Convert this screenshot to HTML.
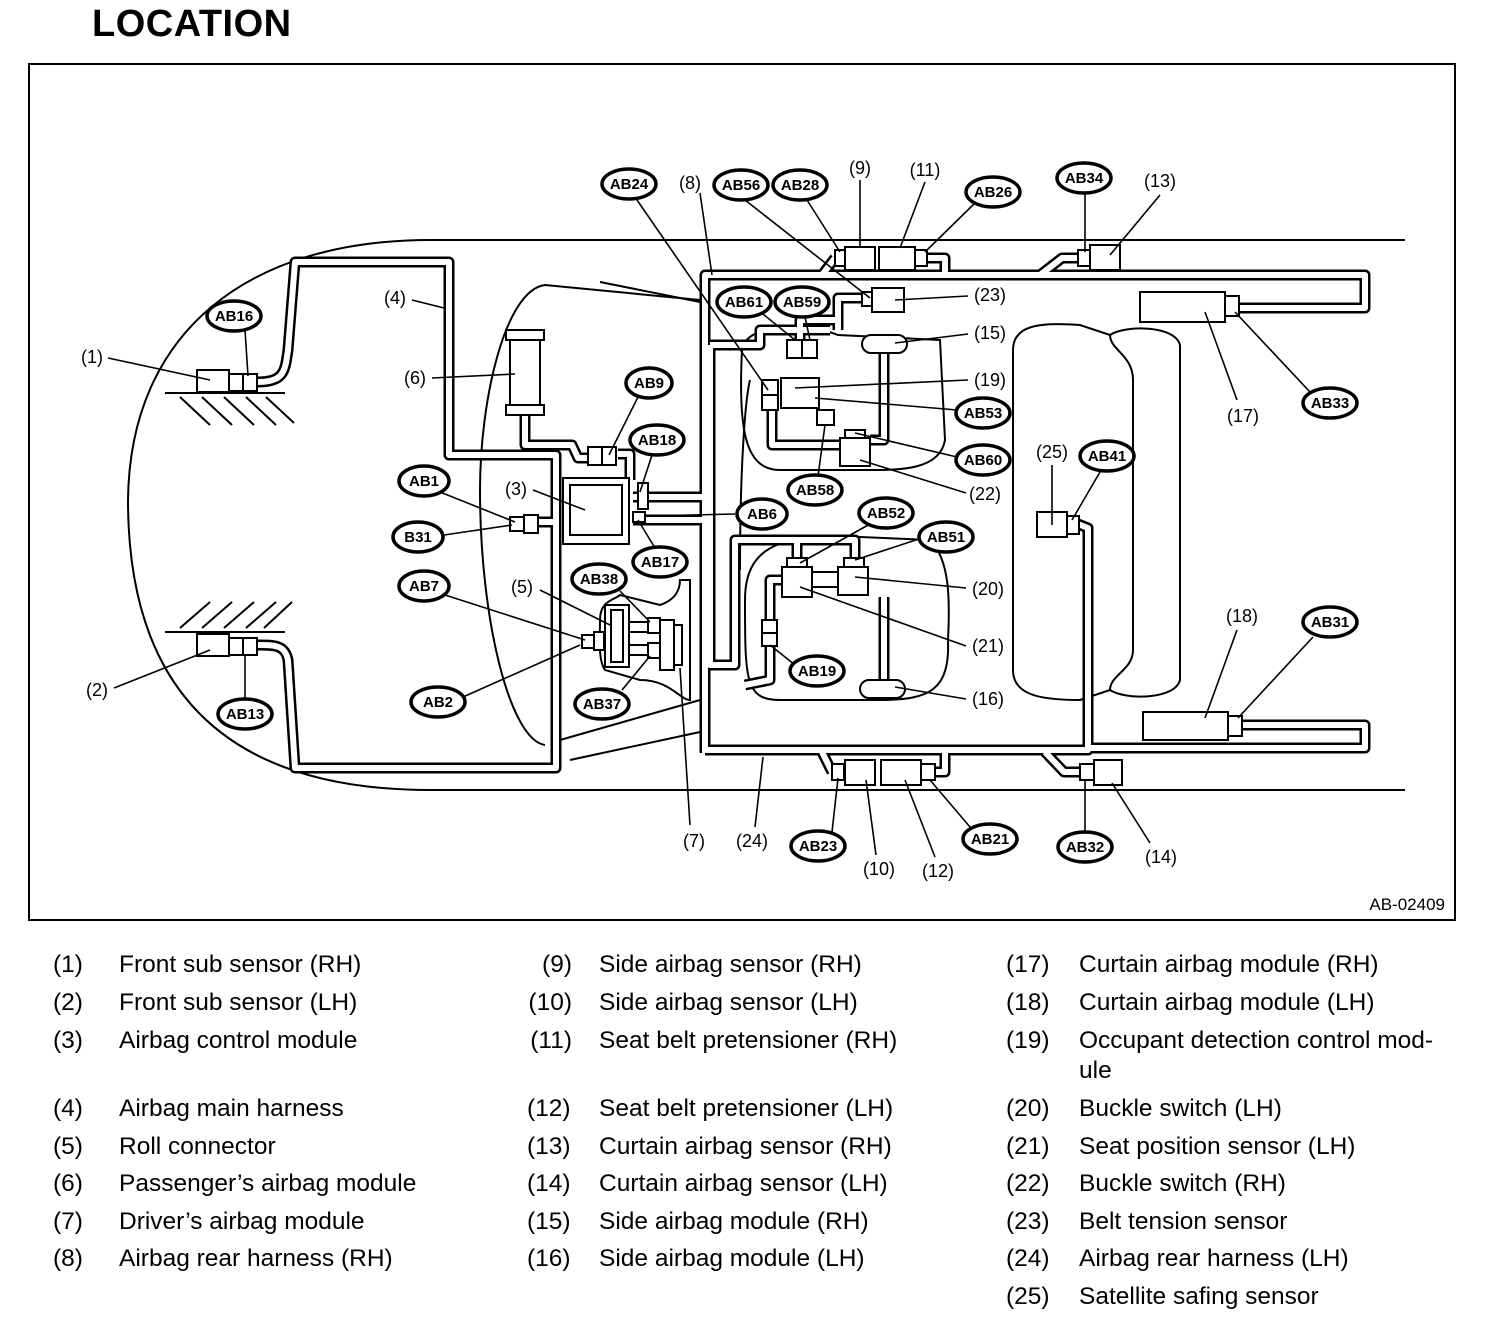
<!DOCTYPE html>
<html><head><meta charset="utf-8"><style>
html,body{margin:0;padding:0;background:#fff}
body{width:1504px;height:1342px;position:relative;overflow:hidden;font-family:"Liberation Sans",sans-serif}
.t{position:absolute;left:92px;top:3px;font-size:38px;font-weight:bold;letter-spacing:0.5px}
.lg{position:absolute;font-size:24.5px;line-height:38px;white-space:nowrap}
.b2{line-height:37.5px;top:1090px}
</style></head><body>
<div class="t">LOCATION</div>
<svg width="1504" height="1342" style="position:absolute;left:0;top:0" xmlns="http://www.w3.org/2000/svg">
<defs>
<g id="hp">
<path d="M258,382 C285,382 285,370 288,350 L295,262 L449,262 L449,455 L556,455 L556,768 L295,768 L288,660 C285,645 275,645 258,645"/>
<path d="M525,410 L525,445 L572,445 L578,458 L590,458"/>
<path d="M618,454 L630,454 L630,480"/>
<path d="M538,522 L556,522"/>
<path d="M633,497 L705,497"/>
<path d="M633,520 L705,520"/>
<path d="M705,753 L705,275 L1365,275 L1365,308 L1240,308"/>
<path d="M705,750 L1088,750 L1088,528 L1078,524"/>
<path d="M1088,748 L1365,748 L1365,725 L1242,725"/>
<path d="M822,275 L835,258"/>
<path d="M926,258 L945,258 L945,275"/>
<path d="M1078,258 L1062,258 L1040,275"/>
<path d="M832,772 L822,752"/>
<path d="M934,772 L945,772 L945,752"/>
<path d="M1080,772 L1064,772 L1045,752"/>
<path d="M862,298 L838,298 L838,330"/>
<path d="M772,395 L772,445 L840,445"/>
<path d="M800,340 L800,320 L838,320"/>
<path d="M884,353 L884,440 L870,440"/>
<path d="M710,345 L760,345 L760,330 L830,330"/>
<path d="M710,345 L710,665 L735,665 L735,540 L855,540 L855,560"/>
<path d="M770,622 L770,580 L782,580"/>
<path d="M770,645 L770,680 L745,685"/>
<path d="M884,597 L884,680"/>
<path d="M797,560 L797,540"/>
</g>
</defs>
<rect x="29" y="64" width="1426" height="856" fill="none" stroke="#000" stroke-width="2"/>
<path d="M1405,240 L430,240 C250,240 130,330 128,500 C128,640 180,790 430,790 L1405,790" fill="none" stroke="#000" stroke-width="2"/>
<g fill="none" stroke="#000" stroke-width="2">
<path d="M700,300 L545,285 C505,290 480,400 480,490 C480,620 510,740 545,745"/>
<path d="M600,282 L700,302"/>
<path d="M560,740 L700,700"/><path d="M570,760 L700,732"/>
<path d="M742,350 C745,325 800,320 838,335 L940,340 L945,440 C940,470 900,470 870,470 L780,470 C745,470 738,430 742,350"/>
<path d="M740,570 C740,470 745,400 750,380"/>
<path d="M745,600 C745,540 790,535 860,537 L930,540 C950,560 950,600 948,640 C950,690 930,700 880,700 L780,700 C745,700 745,680 745,600"/>
<path d="M1013,350 C1013,325 1040,322 1080,325 L1110,335 C1125,325 1175,325 1180,345 L1180,680 C1175,700 1125,700 1110,690 L1080,700 C1040,700 1013,695 1013,670 Z"/>
<path d="M1110,335 C1110,350 1133,355 1133,380 L1133,650 C1133,670 1110,675 1110,690"/>
<path d="M600,620 C600,600 615,600 620,595 L640,600 L660,605 C675,600 680,590 680,580 L690,580 L690,700 C680,700 670,680 640,680 L605,670 C598,660 600,640 600,620"/>
<path d="M165,393 L285,393"/><path d="M165,632 L285,632"/>
</g>
<g stroke="#000" stroke-width="2">
<line x1="180" y1="397" x2="210" y2="425"/><line x1="202" y1="397" x2="232" y2="425"/><line x1="224" y1="397" x2="254" y2="425"/><line x1="246" y1="397" x2="276" y2="425"/><line x1="266" y1="397" x2="294" y2="423"/>
<line x1="180" y1="628" x2="210" y2="602"/><line x1="202" y1="628" x2="232" y2="602"/><line x1="224" y1="628" x2="254" y2="602"/><line x1="246" y1="628" x2="276" y2="602"/><line x1="264" y1="628" x2="292" y2="602"/>
</g>
<g fill="none" stroke="#000" stroke-width="11" stroke-linejoin="round"><use href="#hp"/></g>
<g fill="none" stroke="#fff" stroke-width="6" stroke-linejoin="round"><use href="#hp"/></g>
<g fill="#fff" stroke="#000" stroke-width="2">
<rect x="197" y="370" width="32" height="22"/><rect x="229" y="374" width="14" height="17"/><rect x="243" y="374" width="14" height="17"/>
<rect x="197" y="634" width="32" height="22"/><rect x="229" y="638" width="14" height="17"/><rect x="243" y="638" width="14" height="17"/>
<rect x="510" y="335" width="30" height="75"/><rect x="506" y="330" width="38" height="10"/><rect x="506" y="405" width="38" height="10"/>
<rect x="588" y="447" width="14" height="18"/><rect x="602" y="447" width="14" height="18"/>
<rect x="510" y="517" width="14" height="14"/><rect x="524" y="515" width="14" height="18"/>
<rect x="563" y="478" width="66" height="66"/><rect x="570" y="485" width="52" height="50"/>
<rect x="638" y="483" width="10" height="26"/><rect x="633" y="512" width="12" height="10"/>
<rect x="582" y="635" width="12" height="13"/><rect x="594" y="632" width="10" height="18"/>
<rect x="605" y="605" width="24" height="62"/><rect x="611" y="610" width="12" height="52"/>
<rect x="629" y="622" width="20" height="10"/><rect x="629" y="645" width="20" height="10"/>
<rect x="648" y="618" width="12" height="15"/><rect x="648" y="643" width="12" height="15"/>
<rect x="660" y="620" width="14" height="50"/><rect x="674" y="625" width="8" height="40"/>
<rect x="835" y="250" width="10" height="16"/><rect x="845" y="247" width="30" height="23"/><rect x="879" y="247" width="36" height="23"/><rect x="915" y="250" width="12" height="16"/>
<rect x="1078" y="250" width="12" height="16"/><rect x="1090" y="245" width="30" height="25"/>
<rect x="832" y="764" width="12" height="16"/><rect x="845" y="760" width="30" height="25"/><rect x="881" y="760" width="40" height="25"/><rect x="921" y="764" width="14" height="16"/>
<rect x="1080" y="764" width="14" height="16"/><rect x="1094" y="760" width="28" height="25"/>
<rect x="1140" y="292" width="85" height="30"/><rect x="1225" y="296" width="14" height="20"/>
<rect x="1143" y="712" width="85" height="28"/><rect x="1228" y="716" width="14" height="20"/>
<rect x="1037" y="512" width="30" height="25"/><rect x="1067" y="516" width="12" height="18"/>
<rect x="862" y="292" width="10" height="14"/><rect x="872" y="288" width="32" height="24"/>
<rect x="862" y="335" width="45" height="18" rx="9"/>
<rect x="860" y="680" width="45" height="18" rx="9"/>
<rect x="787" y="340" width="15" height="18"/><rect x="802" y="340" width="15" height="18"/>
<rect x="781" y="378" width="38" height="30"/>
<rect x="762" y="380" width="16" height="15"/><rect x="762" y="395" width="16" height="15"/>
<rect x="817" y="410" width="17" height="15"/>
<rect x="845" y="430" width="20" height="9"/><rect x="840" y="438" width="30" height="28"/>
<rect x="787" y="558" width="20" height="9"/><rect x="782" y="567" width="30" height="30"/>
<rect x="844" y="558" width="20" height="9"/><rect x="838" y="567" width="30" height="28"/>
<rect x="812" y="572" width="26" height="15"/>
<rect x="762" y="620" width="15" height="13"/><rect x="762" y="633" width="15" height="13"/>
</g>
<g stroke="#000" stroke-width="1.6">
<line x1="108" y1="358" x2="210" y2="380"/><line x1="114" y1="688" x2="210" y2="650"/>
<line x1="245" y1="330" x2="248" y2="376"/><line x1="245" y1="700" x2="245" y2="655"/>
<line x1="412" y1="300" x2="444" y2="308"/><line x1="432" y1="378" x2="515" y2="374"/>
<line x1="638" y1="397" x2="609" y2="455"/><line x1="652" y1="455" x2="640" y2="492"/>
<line x1="440" y1="492" x2="515" y2="522"/><line x1="444" y1="535" x2="512" y2="525"/>
<line x1="533" y1="490" x2="585" y2="510"/><line x1="540" y1="590" x2="610" y2="625"/>
<line x1="445" y1="595" x2="585" y2="640"/><line x1="463" y1="697" x2="580" y2="645"/>
<line x1="620" y1="591" x2="650" y2="622"/><line x1="622" y1="690" x2="650" y2="656"/>
<line x1="655" y1="548" x2="638" y2="520"/><line x1="735" y1="514" x2="648" y2="516"/>
<line x1="680" y1="668" x2="690" y2="825"/><line x1="755" y1="827" x2="763" y2="757"/>
<line x1="637" y1="200" x2="768" y2="390"/><line x1="700" y1="193" x2="712" y2="275"/>
<line x1="745" y1="200" x2="870" y2="298"/><line x1="807" y1="200" x2="840" y2="252"/>
<line x1="860" y1="180" x2="860" y2="248"/><line x1="925" y1="182" x2="900" y2="248"/>
<line x1="975" y1="203" x2="925" y2="252"/><line x1="1085" y1="193" x2="1085" y2="252"/>
<line x1="1160" y1="195" x2="1110" y2="255"/><line x1="968" y1="296" x2="895" y2="300"/>
<line x1="968" y1="334" x2="895" y2="343"/><line x1="968" y1="380" x2="795" y2="388"/>
<line x1="957" y1="410" x2="815" y2="398"/><line x1="957" y1="457" x2="855" y2="433"/>
<line x1="966" y1="493" x2="860" y2="460"/><line x1="818" y1="476" x2="825" y2="425"/>
<line x1="758" y1="310" x2="795" y2="340"/><line x1="805" y1="317" x2="810" y2="340"/>
<line x1="870" y1="524" x2="800" y2="563"/><line x1="922" y1="538" x2="855" y2="560"/>
<line x1="966" y1="588" x2="855" y2="577"/><line x1="966" y1="646" x2="800" y2="587"/>
<line x1="966" y1="699" x2="895" y2="687"/><line x1="795" y1="665" x2="770" y2="645"/>
<line x1="1052" y1="465" x2="1052" y2="525"/><line x1="1100" y1="472" x2="1072" y2="520"/>
<line x1="1237" y1="400" x2="1205" y2="312"/><line x1="1310" y1="392" x2="1235" y2="312"/>
<line x1="1237" y1="630" x2="1205" y2="718"/><line x1="1313" y1="637" x2="1238" y2="718"/>
<line x1="832" y1="832" x2="838" y2="778"/><line x1="876" y1="855" x2="866" y2="780"/>
<line x1="935" y1="857" x2="905" y2="780"/><line x1="970" y1="827" x2="930" y2="780"/>
<line x1="1085" y1="832" x2="1085" y2="780"/><line x1="1150" y1="843" x2="1112" y2="783"/>
</g>
<g font-family="Liberation Sans, sans-serif" font-size="15" font-weight="bold" text-anchor="middle">
<g fill="#fff" stroke="#000" stroke-width="3.5">
<ellipse cx="234" cy="316" rx="27" ry="15"/><ellipse cx="649" cy="383" rx="23" ry="15"/><ellipse cx="657" cy="440" rx="27" ry="15"/>
<ellipse cx="424" cy="481" rx="25" ry="15"/><ellipse cx="418" cy="537" rx="25" ry="15"/><ellipse cx="424" cy="586" rx="25" ry="15"/>
<ellipse cx="438" cy="702" rx="27" ry="15"/><ellipse cx="245" cy="714" rx="27" ry="15"/><ellipse cx="599" cy="579" rx="27" ry="15"/>
<ellipse cx="660" cy="562" rx="27" ry="15"/><ellipse cx="602" cy="704" rx="27" ry="15"/><ellipse cx="762" cy="514" rx="25" ry="15"/>
<ellipse cx="629" cy="184" rx="27" ry="15"/><ellipse cx="741" cy="185" rx="27" ry="15"/><ellipse cx="800" cy="185" rx="27" ry="15"/>
<ellipse cx="993" cy="192" rx="27" ry="15"/><ellipse cx="1084" cy="178" rx="27" ry="15"/><ellipse cx="744" cy="302" rx="27" ry="15"/>
<ellipse cx="802" cy="302" rx="27" ry="15"/><ellipse cx="983" cy="413" rx="27" ry="15"/><ellipse cx="983" cy="460" rx="27" ry="15"/>
<ellipse cx="815" cy="490" rx="27" ry="15"/><ellipse cx="886" cy="513" rx="27" ry="15"/><ellipse cx="946" cy="537" rx="27" ry="15"/>
<ellipse cx="817" cy="671" rx="27" ry="15"/><ellipse cx="1107" cy="456" rx="27" ry="15"/><ellipse cx="1330" cy="403" rx="27" ry="15"/>
<ellipse cx="1330" cy="622" rx="27" ry="15"/><ellipse cx="818" cy="846" rx="27" ry="15"/><ellipse cx="990" cy="839" rx="27" ry="15"/>
<ellipse cx="1085" cy="847" rx="27" ry="15"/>
</g>
<text x="234" y="321">AB16</text><text x="649" y="388">AB9</text><text x="657" y="445">AB18</text>
<text x="424" y="486">AB1</text><text x="418" y="542">B31</text><text x="424" y="591">AB7</text>
<text x="438" y="707">AB2</text><text x="245" y="719">AB13</text><text x="599" y="584">AB38</text>
<text x="660" y="567">AB17</text><text x="602" y="709">AB37</text><text x="762" y="519">AB6</text>
<text x="629" y="189">AB24</text><text x="741" y="190">AB56</text><text x="800" y="190">AB28</text>
<text x="993" y="197">AB26</text><text x="1084" y="183">AB34</text><text x="744" y="307">AB61</text>
<text x="802" y="307">AB59</text><text x="983" y="418">AB53</text><text x="983" y="465">AB60</text>
<text x="815" y="495">AB58</text><text x="886" y="518">AB52</text><text x="946" y="542">AB51</text>
<text x="817" y="676">AB19</text><text x="1107" y="461">AB41</text><text x="1330" y="408">AB33</text>
<text x="1330" y="627">AB31</text><text x="818" y="851">AB23</text><text x="990" y="844">AB21</text>
<text x="1085" y="852">AB32</text>
</g>
<g font-family="Liberation Sans, sans-serif" font-size="18" text-anchor="middle">
<text x="860" y="174">(9)</text><text x="925" y="176">(11)</text><text x="690" y="189">(8)</text><text x="1160" y="187">(13)</text>
<text x="395" y="304">(4)</text><text x="990" y="301">(23)</text><text x="990" y="339">(15)</text><text x="92" y="363">(1)</text>
<text x="415" y="384">(6)</text><text x="990" y="386">(19)</text><text x="1243" y="422">(17)</text><text x="1052" y="458">(25)</text>
<text x="516" y="495">(3)</text><text x="985" y="500">(22)</text><text x="522" y="593">(5)</text><text x="988" y="595">(20)</text>
<text x="1242" y="622">(18)</text><text x="988" y="652">(21)</text><text x="97" y="696">(2)</text><text x="988" y="705">(16)</text>
<text x="694" y="847">(7)</text><text x="752" y="847">(24)</text><text x="879" y="875">(10)</text><text x="938" y="877">(12)</text>
<text x="1161" y="863">(14)</text>
<text x="1445" y="910" text-anchor="end" font-size="17">AB-02409</text>
</g>
</svg>
<div class="lg" style="left:53px;top:946px">(1)<br>(2)<br>(3)</div>
<div class="lg" style="left:119px;top:946px">Front sub sensor (RH)<br>Front sub sensor (LH)<br>Airbag control module</div>
<div class="lg b2" style="left:53px">(4)<br>(5)<br>(6)<br>(7)<br>(8)</div>
<div class="lg b2" style="left:119px">Airbag main harness<br>Roll connector<br>Passenger’s airbag module<br>Driver’s airbag module<br>Airbag rear harness (RH)</div>
<div class="lg" style="left:522px;top:946px;text-align:right;width:50px">(9)<br>(10)<br>(11)</div>
<div class="lg" style="left:599px;top:946px">Side airbag sensor (RH)<br>Side airbag sensor (LH)<br>Seat belt pretensioner (RH)</div>
<div class="lg b2" style="left:527px">(12)<br>(13)<br>(14)<br>(15)<br>(16)</div>
<div class="lg b2" style="left:599px">Seat belt pretensioner (LH)<br>Curtain airbag sensor (RH)<br>Curtain airbag sensor (LH)<br>Side airbag module (RH)<br>Side airbag module (LH)</div>
<div class="lg" style="left:1006px;top:946px">(17)<br>(18)<br>(19)</div>
<div class="lg" style="left:1079px;top:946px">Curtain airbag module (RH)<br>Curtain airbag module (LH)<br>Occupant detection control mod-</div>
<div class="lg" style="left:1079px;top:1052px">ule</div>
<div class="lg b2" style="left:1006px">(20)<br>(21)<br>(22)<br>(23)<br>(24)<br>(25)</div>
<div class="lg b2" style="left:1079px">Buckle switch (LH)<br>Seat position sensor (LH)<br>Buckle switch (RH)<br>Belt tension sensor<br>Airbag rear harness (LH)<br>Satellite safing sensor</div>
</body></html>
